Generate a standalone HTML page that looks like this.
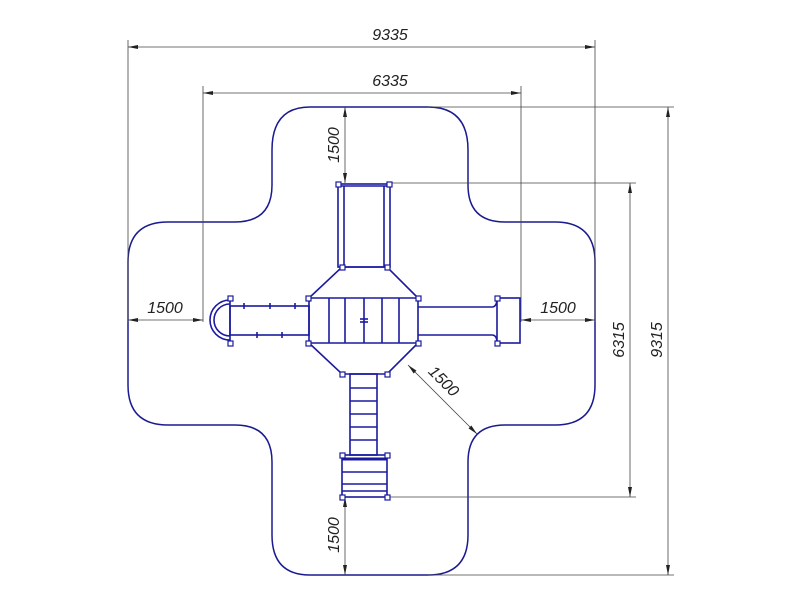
<!DOCTYPE html>
<html><head><style>html,body{margin:0;padding:0;background:#fff}svg{display:block}
text{font-family:"Liberation Sans",sans-serif;font-style:italic;font-size:16px;fill:#222}</style></head>
<body>
<svg width="800" height="600" viewBox="0 0 800 600" xmlns="http://www.w3.org/2000/svg">
<defs>
<marker id="a" viewBox="0 0 10 6" refX="10" refY="3" markerWidth="10" markerHeight="6" orient="auto-start-reverse" markerUnits="userSpaceOnUse"><path d="M0,1 L10,3 L0,5Z" fill="#222"/></marker>
</defs>
<!-- outer cross shape -->
<path d="M310,107 H428 Q468,107 468,150 V185 Q468,222 505,222 H555 Q595,222 595,262 V385 Q595,425 555,425 H505 Q468,425 468,462 V535 Q468,575 428,575 H310 Q272,575 272,535 V462 Q272,425 235,425 H168 Q128,425 128,385 V262 Q128,222 168,222 H235 Q272,222 272,185 V150 Q272,107 310,107Z" fill="none" stroke="#1a1a90" stroke-width="1.5"/>
<!-- dimension lines -->
<g stroke="#444" stroke-width="0.8" fill="none">
<line x1="128" y1="40" x2="128" y2="322"/><line x1="595" y1="40" x2="595" y2="322"/>
<line x1="203" y1="86" x2="203" y2="322"/><line x1="521" y1="86" x2="521" y2="322"/>
<line x1="428" y1="107" x2="674" y2="107"/><line x1="428" y1="575" x2="674" y2="575"/>
<line x1="388" y1="183" x2="636" y2="183"/><line x1="388" y1="497" x2="636" y2="497"/>
<line x1="128" y1="47" x2="595" y2="47" marker-start="url(#a)" marker-end="url(#a)"/>
<line x1="203" y1="93" x2="521" y2="93" marker-start="url(#a)" marker-end="url(#a)"/>
<line x1="668" y1="107" x2="668" y2="575" marker-start="url(#a)" marker-end="url(#a)"/>
<line x1="630" y1="183" x2="630" y2="497" marker-start="url(#a)" marker-end="url(#a)"/>
<line x1="345" y1="107" x2="345" y2="183" marker-start="url(#a)" marker-end="url(#a)"/>
<line x1="345" y1="497" x2="345" y2="575" marker-start="url(#a)" marker-end="url(#a)"/>
<line x1="128" y1="320" x2="203" y2="320" marker-start="url(#a)" marker-end="url(#a)"/>
<line x1="521" y1="320" x2="595" y2="320" marker-start="url(#a)" marker-end="url(#a)"/>
<line x1="408" y1="365" x2="477" y2="434" marker-start="url(#a)" marker-end="url(#a)"/>
</g>
<text x="390" y="40" text-anchor="middle">9335</text>
<text x="390" y="86" text-anchor="middle">6335</text>
<text x="165" y="313" text-anchor="middle">1500</text>
<text x="558" y="313" text-anchor="middle">1500</text>
<text transform="translate(339,145) rotate(-90)" text-anchor="middle">1500</text>
<text transform="translate(339,535) rotate(-90)" text-anchor="middle">1500</text>
<text transform="translate(624,340) rotate(-90)" text-anchor="middle">6315</text>
<text transform="translate(662,340) rotate(-90)" text-anchor="middle">9315</text>
<text transform="translate(440,385) rotate(45)" text-anchor="middle">1500</text>
<!-- structure -->
<g stroke="#1a1aa0" stroke-width="1.6" fill="none">
<rect x="338" y="184" width="52" height="83"/>
<line x1="344" y1="186" x2="344" y2="267"/><line x1="384" y1="186" x2="384" y2="267"/>
<line x1="338" y1="186" x2="390" y2="186"/>
<polygon points="342,267 387,267 418,298 418,343 387,374 342,374 309,343 309,298"/>
<line x1="309" y1="298" x2="418" y2="298"/><line x1="309" y1="343" x2="418" y2="343"/>
<line x1="329" y1="298" x2="329" y2="343"/><line x1="345" y1="298" x2="345" y2="343"/>
<line x1="364" y1="298" x2="364" y2="343"/><line x1="382" y1="298" x2="382" y2="343"/>
<line x1="399" y1="298" x2="399" y2="343"/>
<line x1="360" y1="319" x2="368" y2="319"/><line x1="360" y1="322" x2="368" y2="322"/>
<rect x="230" y="306" width="79" height="29"/>
<line x1="230" y1="298" x2="230" y2="343"/>
<path d="M230,304 A16,16 0 0 0 230,336"/><path d="M230,300 A20,20 0 0 0 230,340"/>
<line x1="244" y1="303" x2="244" y2="309"/><line x1="270" y1="303" x2="270" y2="309"/><line x1="295" y1="303" x2="295" y2="309"/>
<line x1="257" y1="332" x2="257" y2="338"/><line x1="282" y1="332" x2="282" y2="338"/>
<line x1="418" y1="307" x2="492" y2="307"/><line x1="418" y1="335" x2="492" y2="335"/>
<path d="M492,307 Q497,307 497,298 M492,335 Q497,335 497,343"/>
<rect x="497" y="298" width="23" height="45"/>
<rect x="350" y="374" width="27" height="81"/>
<line x1="350" y1="388" x2="377" y2="388"/><line x1="350" y1="401" x2="377" y2="401"/>
<line x1="350" y1="414" x2="377" y2="414"/><line x1="350" y1="427" x2="377" y2="427"/>
<line x1="350" y1="440" x2="377" y2="440"/>
<rect x="342" y="455" width="45" height="42"/>
<line x1="342" y1="459" x2="387" y2="459" stroke-width="3"/>
<line x1="342" y1="472" x2="387" y2="472"/><line x1="342" y1="484" x2="387" y2="484"/><line x1="342" y1="491" x2="387" y2="491"/>
</g>
<g fill="#fff" stroke="#1a1aa0" stroke-width="1.2">
<rect x="336" y="182" width="5" height="5"/><rect x="387" y="182" width="5" height="5"/>
<rect x="340" y="265" width="5" height="5"/><rect x="385" y="265" width="5" height="5"/>
<rect x="306" y="296" width="5" height="5"/><rect x="416" y="296" width="5" height="5"/>
<rect x="306" y="341" width="5" height="5"/><rect x="416" y="341" width="5" height="5"/>
<rect x="340" y="372" width="5" height="5"/><rect x="385" y="372" width="5" height="5"/>
<rect x="228" y="296" width="5" height="5"/><rect x="228" y="341" width="5" height="5"/>
<rect x="495" y="296" width="5" height="5"/><rect x="495" y="341" width="5" height="5"/>
<rect x="340" y="453" width="5" height="5"/><rect x="385" y="453" width="5" height="5"/>
<rect x="340" y="495" width="5" height="5"/><rect x="385" y="495" width="5" height="5"/>
</g>
</svg>
</body></html>
